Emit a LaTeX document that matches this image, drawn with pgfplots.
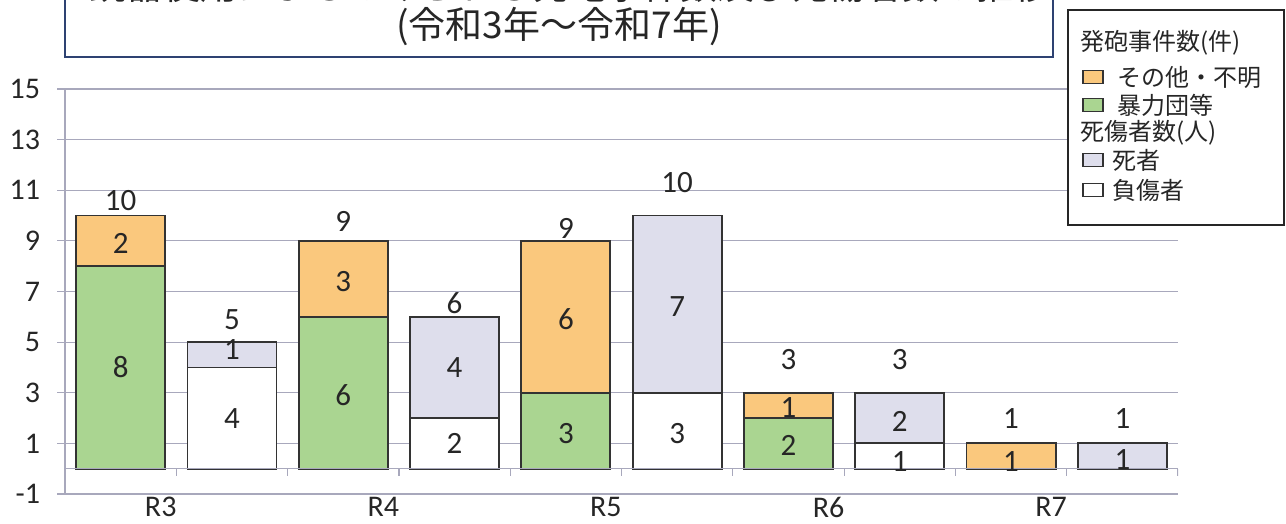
\documentclass[border=0pt]{standalone}
\usepackage{pgfplots}
\pgfplotsset{compat=1.18}
\usepackage{pgfplotstable}
\usepackage{fontspec}
\setmainfont{Carlito}
\newfontfamily\cjk{Noto Sans CJK JP}

\definecolor{orangebar}{HTML}{FAC87D}
\definecolor{greenbar}{HTML}{AAD591}
\definecolor{lavbar}{HTML}{DEDEEC}
\definecolor{gridcol}{HTML}{A8A8BC}
\definecolor{titleblue}{HTML}{2E4272}
\definecolor{txt}{HTML}{262626}

% events at even x, casualties at odd x
\pgfplotstableread{
x gang other injured dead
0 8 2 0 0
1 0 0 4 1
2 6 3 0 0
3 0 0 2 4
4 3 6 0 0
5 0 0 3 7
6 2 1 0 0
7 0 0 1 2
8 0 1 0 0
9 0 0 0 1
}\datatable

\pgfplotsset{chartbox/.style={
	at={(32.5bp,15bp)}, anchor=south west,
	scale only axis, width=556.5bp, height=202.5bp,
	xmin=-0.5, xmax=9.5, ymin=-1, ymax=15,
}}

\newcommand{\lbl}[3]{\node[font=\fontsize{15.5bp}{17bp}\selectfont, text=txt] at (axis cs:#1,#2) {#3};}

\begin{document}
\begin{tikzpicture}[x=0.5bp,y=0.5bp]
\useasboundingbox (0,0) rectangle (1286,524);
% title box (first line runs off the top of the page)
\draw[titleblue, line width=1.3bp] (65,570) rectangle (1053,467);
\node[font=\cjk\fontsize{18.5bp}{20bp}\selectfont, text=txt] at (570,538) {銃器使用によるとみられる発砲事件数及び死傷者数の推移};
\node[font=\cjk\fontsize{18.5bp}{20bp}\selectfont, text=txt] at (559,497) {(令和3年～令和7年)};

\begin{axis}[
	chartbox,
	axis y line*=left, axis x line*=bottom,
	axis line style={draw=gridcol, line width=0.6bp},
	ytick={-1,1,...,15},
	xtick={0.36,2.36,4.36,6.36,8.36},
	xticklabels={R3,R4,R5,R6,R7},
	x tick style={draw=none},
	y tick style={draw=gridcol, line width=0.6bp},
	tick align=outside, major tick length=4bp,
	ymajorgrids, grid style={draw=gridcol, line width=0.6bp},
	tick label style={font=\fontsize{15bp}{17bp}\selectfont, text=txt},
	xticklabel style={yshift=6bp},
	yticklabel style={xshift=-5bp},
	/pgf/number format/assume math mode=true,
	ybar stacked, bar width=0.8,
	every axis plot/.append style={draw=black!80, line width=0.9bp},
]
% horizontal axis crosses at 0
\draw[gridcol, line width=0.6bp] (axis cs:-0.5,0) -- (axis cs:9.5,0);
\pgfplotsinvokeforeach{0.5,1.5,...,9.5}{
	\draw[gridcol, line width=0.6bp] (axis cs:#1,0) -- ++(0pt,-3.5bp);
}
\addplot[fill=greenbar] table[x=x, y=gang] {\datatable};
\addplot[fill=orangebar] table[x=x, y=other] {\datatable};
\addplot[fill=white] table[x=x, y=injured] {\datatable};
\addplot[fill=lavbar] table[x=x, y=dead] {\datatable};
\end{axis}

% second, invisible axis of the same size so the value labels sit above the bars
\begin{axis}[chartbox, hide axis]
\lbl{0}{4}{8} \lbl{0}{8.9}{2} \lbl{0}{10.6}{10}
\lbl{1}{2}{4} \lbl{1}{4.7}{1} \lbl{1}{5.9}{5}
\lbl{2}{2.9}{6} \lbl{2}{7.4}{3} \lbl{2}{9.75}{9}
\lbl{3}{1}{2} \lbl{3}{4}{4} \lbl{3}{6.55}{6}
\lbl{4}{1.4}{3} \lbl{4}{5.9}{6} \lbl{4}{9.5}{9}
\lbl{5}{1.4}{3} \lbl{5}{6.4}{7} \lbl{5}{11.3}{10}
\lbl{6}{0.93}{2} \lbl{6}{2.4}{1} \lbl{6}{4.3}{3}
\lbl{7}{0.27}{1} \lbl{7}{1.85}{2} \lbl{7}{4.3}{3}
\lbl{8}{0.27}{1} \lbl{8}{2}{1}
\lbl{9}{0.35}{1} \lbl{9}{2}{1}
\end{axis}

% legend
\draw[black!85, line width=0.8bp, fill=white] (1068,514) rectangle (1284,299);
\begin{scope}[every node/.style={font=\cjk\fontsize{12bp}{14bp}\selectfont, text=txt, anchor=west, inner sep=0pt}]
\node at (1080,481) {発砲事件数(件)};
\draw[black!80, line width=0.8bp, fill=orangebar] (1083,440.5) rectangle ++(20,13);
\node at (1117,447) {その他・不明};
\draw[black!80, line width=0.8bp, fill=greenbar] (1083,412.5) rectangle ++(20,13);
\node at (1117,419) {暴力団等};
\node at (1080,391) {死傷者数(人)};
\draw[black!80, line width=0.8bp, fill=lavbar] (1083,357.5) rectangle ++(20,13);
\node at (1112,364) {死者};
\draw[black!80, line width=0.8bp, fill=white] (1083,327.5) rectangle ++(20,13);
\node at (1112,334) {負傷者};
\end{scope}
\end{tikzpicture}
\end{document}
